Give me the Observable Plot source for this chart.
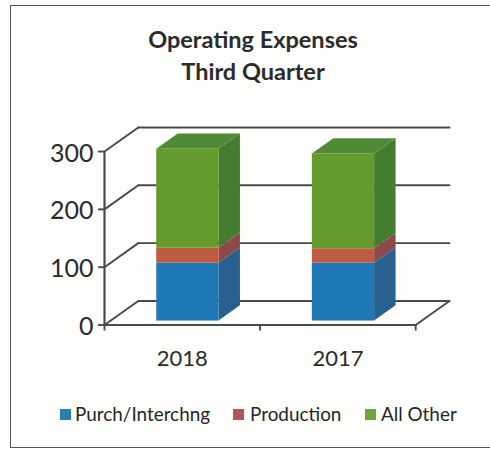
<!DOCTYPE html>
<html><head><meta charset="utf-8">
<script src="https://cdn.jsdelivr.net/npm/d3@7"></script>
<script src="https://cdn.jsdelivr.net/npm/@observablehq/plot@0.6"></script>
<style>
html,body{margin:0;padding:0;background:#fdfdfb;}
#page{position:relative;width:490px;height:449px;overflow:hidden;font-family:Lato,sans-serif;color:#262626;}
#frame{position:absolute;left:10px;top:5px;width:490px;height:443px;border:1.5px solid #555;box-sizing:border-box;}
#title{position:absolute;left:0;top:23px;width:506px;text-align:center;font-weight:700;font-size:23.5px;line-height:32px;color:#2b2b2b;}
#chart{position:absolute;left:0;top:100px;}
#legend{position:absolute;top:0;left:0;}
.item{position:absolute;top:402px;font-size:18.9px;line-height:24px;white-space:nowrap;}
.sw{position:absolute;top:409px;width:11px;height:11px;}
</style></head>
<body><div id="page">
<div id="frame"></div>
<div id="title">Operating Expenses<br>Third Quarter</div>
<div id="chart"></div>
<div id="legend"></div>
</div>
<script>
const categories = ["2018", "2017"];
const seriesNames = ["Purch/Interchng", "Production", "All Other"];
const purch = [100, 100];
const production = [26, 25];
const allOther = [171, 164];
const yTicks = [0, 100, 200, 300];

const frontColors = ["#1f78b4", "#bd5a42", "#659a2c"];
const sideColors = ["#28608f", "#8e4a48", "#457d30"];
const topColor = "#4f8a36";
const legendColors = ["#2a7db0", "#b0565a", "#6ca53e"];
const gridColor = "#4a4a4a";

// Oblique 3D look: depth 1 is a shift of the back wall expressed in data units
const pxX = 156.5, pxY = 0.5775;
const depthU = 34 / pxX, depthV = 24 / pxY;
const P = (u, v, d) => ({x: u + d * depthU, y: v + d * depthV});
const barD0 = 0.165, barD1 = 0.8, barHalf = 0.2;
const nCat = categories.length;

const gridLines = yTicks.flatMap(v => [
  {k: "d" + v, ...P(0, v, 0)}, {k: "d" + v, ...P(0, v, 1)},
  {k: "b" + v, ...P(0, v, 1)}, {k: "b" + v, x: nCat + depthU, y: v + depthV}
]);
const floorLines = [
  {k: "front", ...P(0, 0, 0)}, {k: "front", ...P(nCat, 0, 0)},
  {k: "right", ...P(nCat, 0, 0)}, {k: "right", ...P(nCat, 0, 1)}
];

const fronts = [], sides = [], tops = [];
categories.forEach((c, i) => {
  const vals = [purch[i], production[i], allOther[i]];
  const u = i + 0.5, a = u - barHalf, b = u + barHalf;
  let base = 0;
  vals.forEach((val, s) => {
    const t = base + val;
    const f0 = P(a, base, barD0), f1 = P(b, t, barD0);
    fronts.push({x1: f0.x, x2: f1.x, y1: f0.y, y2: f1.y, s});
    const n0 = P(b, base, barD0), n1 = P(b, t, barD0), m0 = P(b, base, barD1), m1 = P(b, t, barD1);
    const key = c + "-" + s;
    sides.push({k: key, s, x: n0.x, y1: n0.y, y2: n1.y}, {k: key, s, x: m0.x, y1: m0.y, y2: m1.y});
    base = t;
  });
  const t0a = P(a, base, barD0), t0b = P(b, base, barD0), t1a = P(a, base, barD1), t1b = P(b, base, barD1);
  tops.push({k: c, y: t0a.y, x1: t0a.x, x2: t0b.x}, {k: c, y: t1a.y, x1: t1a.x, x2: t1b.x});
});

const plot = Plot.plot({
  width: 490, height: 285,
  marginLeft: 104, marginRight: 41, marginTop: 27, marginBottom: 60.5,
  style: {background: "transparent", fontFamily: "Lato, sans-serif", overflow: "visible"},
  x: {type: "linear", domain: [0, nCat + depthU], range: [104, 449], axis: null},
  y: {type: "linear", domain: [0, 300 + depthV], axis: null},
  marks: [
    Plot.line(gridLines, {x: "x", y: "y", z: "k", stroke: gridColor, strokeWidth: 1.9}),
    Plot.line(floorLines, {x: "x", y: "y", z: "k", stroke: gridColor, strokeWidth: 1.9}),
    Plot.ruleX([0], {y1: 0, y2: 300, stroke: gridColor, strokeWidth: 2.2}),
    Plot.axisY({ticks: yTicks, tickSize: 6, tickFormat: () => "", stroke: gridColor, label: null, strokeWidth: 1.9}),
    Plot.axisY({ticks: yTicks, tickSize: 0, tickPadding: 11, fontSize: 25, dy: 2, color: "#2b2b2b", label: null}),
    Plot.axisX({ticks: [0, 1, 2], tickSize: 6, tickFormat: () => "", stroke: gridColor, strokeWidth: 1.9, label: null}),
    Plot.text(categories, {x: (d, i) => i + 0.5, y: 0, text: d => d, dy: 34, fontSize: 22, fill: "#2b2b2b"}),
    Plot.areaY(sides, {x: "x", y1: "y1", y2: "y2", z: "k", fill: d => sideColors[d.s]}),
    Plot.areaX(tops, {y: "y", x1: "x1", x2: "x2", z: "k", fill: topColor}),
    Plot.rect(fronts, {x1: "x1", x2: "x2", y1: "y1", y2: "y2", fill: d => frontColors[d.s]})
  ]
});
document.getElementById("chart").appendChild(plot);

const legend = document.getElementById("legend");
const swX = [60, 233, 365], txtX = [75, 250, 381];
seriesNames.forEach((name, i) => {
  const sw = document.createElement("div");
  sw.className = "sw"; sw.style.left = swX[i] + "px"; sw.style.background = legendColors[i];
  const t = document.createElement("div");
  t.className = "item"; t.style.left = txtX[i] + "px"; t.textContent = name;
  legend.append(sw, t);
});
</script>
</body></html>
